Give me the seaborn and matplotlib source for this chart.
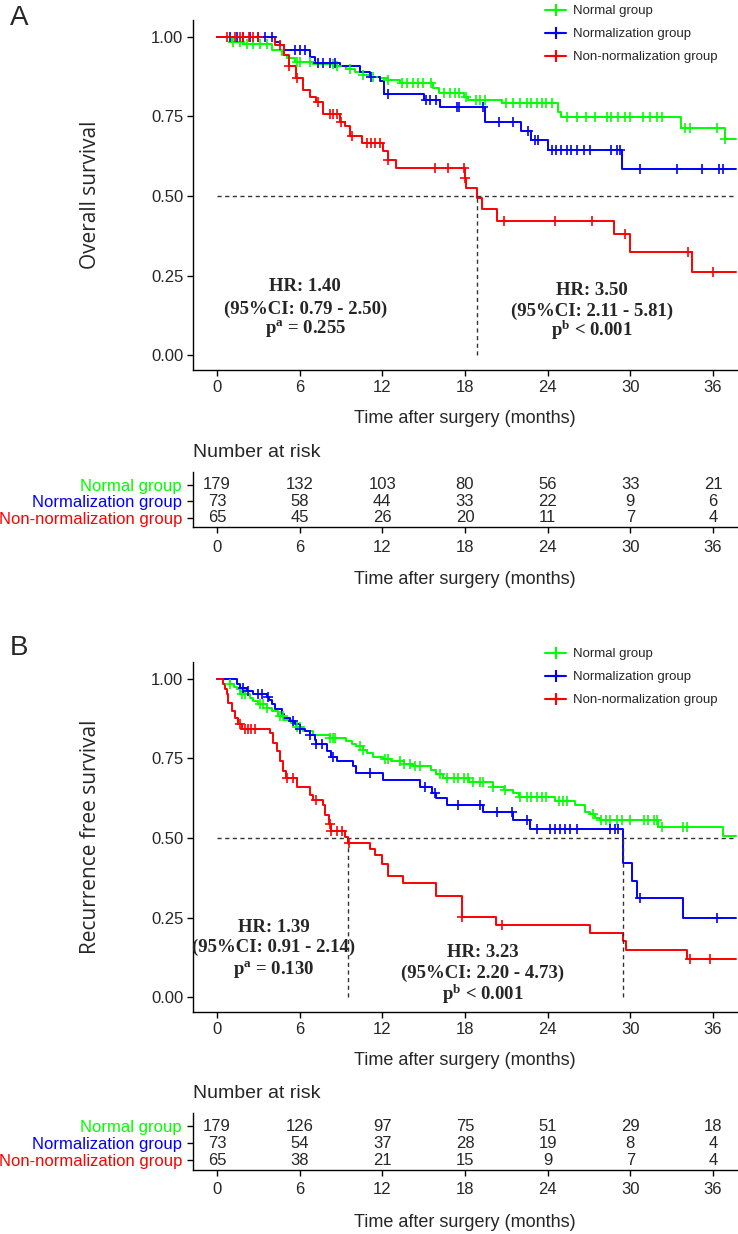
import numpy as np
import pandas as pd
import matplotlib
matplotlib.use("Agg")
import matplotlib.pyplot as plt
import seaborn as sns
from matplotlib.lines import Line2D
import warnings
warnings.filterwarnings("ignore")

sns.set_theme(style="ticks")
# 字体设置（在 set_theme 之后）
plt.rcParams['font.family'] = ['Liberation Sans', 'DejaVu Sans']
plt.rcParams['mathtext.fontset'] = 'custom'
plt.rcParams['mathtext.rm'] = 'Liberation Serif'
plt.rcParams['mathtext.bf'] = 'Liberation Serif:bold'
plt.rcParams['mathtext.default'] = 'bf'

# ---------------- data ----------------
groups = ['Normal group', 'Normalization group', 'Non-normalization group']
colors = ['#00FF00', '#0000FF', '#FF0000']
risk_times = [0, 6, 12, 18, 24, 30, 36]
follow_up_end = 37.7

# A: overall survival
os_normal_t = [0, 1.07, 1.9, 4.0, 4.7, 5.05, 5.66, 7.0, 8.7, 9.4, 10.0, 10.6, 11.1, 11.8, 12.4, 13.3,
               15.7, 16.1, 17.9, 18.2, 20.65, 24.75, 25.0, 33.7, 36.9]
os_normal_s = [1.0, 0.985, 0.977, 0.96, 0.943, 0.933, 0.922, 0.915, 0.907, 0.90, 0.89, 0.88, 0.875, 0.87,
               0.865, 0.854, 0.838, 0.823, 0.812, 0.802, 0.791, 0.765, 0.747, 0.715, 0.68]
os_normal_c = [1.19, 1.67, 2.15, 2.64, 3.12, 3.6, 5.8, 6.0, 6.75, 8.4, 8.7, 9.65, 10.6, 11.35, 12.4, 13.4,
               13.8, 14.25, 14.6, 14.97, 15.5, 16.5, 16.9, 17.3, 17.6, 18.1, 18.8, 19.1, 19.45, 21.0, 21.5,
               22.0, 22.5, 22.8, 23.2, 23.6, 23.9, 24.3, 25.4, 26.1, 26.8, 27.4, 28.3, 28.6, 29.1, 29.6,
               30.0, 30.9, 31.4, 31.9, 32.3, 33.96, 34.3, 36.3, 36.9]

os_norm_t = [0, 4.2, 4.6, 4.9, 6.75, 7.1, 8.9, 10.4, 11.1, 11.8, 12.1, 15.0, 16.2, 19.45, 22.1, 22.8,
             24.05, 29.4]
os_norm_s = [1.0, 0.985, 0.975, 0.96, 0.938, 0.917, 0.907, 0.89, 0.875, 0.86, 0.82, 0.802, 0.78, 0.734,
             0.705, 0.676, 0.645, 0.585]
os_norm_c = [0.94, 1.43, 1.91, 2.4, 3.0, 3.5, 3.97, 5.66, 6.0, 6.4, 7.35, 7.7, 8.2, 8.56, 11.2, 12.4,
             15.2, 15.45, 15.9, 17.4, 17.6, 19.3, 20.5, 21.5, 22.6, 23.1, 23.3, 24.3, 24.6, 25.0, 25.4,
             25.7, 26.1, 26.6, 27.1, 28.6, 29.0, 29.25, 30.7, 33.4, 35.2, 36.4, 36.7]

os_non_t = [0, 4.2, 4.9, 5.2, 5.7, 6.25, 6.75, 7.2, 7.7, 8.9, 9.3, 9.65, 10.5, 12.05, 12.4, 13.0, 18.0,
            18.1, 18.85, 19.2, 20.3, 28.8, 30.0, 34.45]
os_non_s = [1.0, 0.975, 0.943, 0.907, 0.87, 0.833, 0.812, 0.795, 0.758, 0.734, 0.72, 0.69, 0.667, 0.64,
            0.613, 0.589, 0.556, 0.525, 0.494, 0.458, 0.422, 0.38, 0.323, 0.26]
os_non_c = [0.7, 1.3, 1.67, 1.9, 2.3, 2.64, 3.0, 4.6, 5.2, 5.8, 7.3, 8.2, 8.45, 8.7, 9.0, 9.8, 10.9,
            11.2, 11.5, 11.8, 12.4, 15.8, 16.8, 17.9, 18.0, 20.8, 24.5, 27.2, 29.6, 34.2, 36.0]

# B: recurrence free survival
rfs_normal_t = [0, 0.94, 1.2, 1.43, 1.67, 2.4, 2.6, 3.0, 3.6, 4.0, 4.45, 4.9, 5.4, 5.7, 6.26, 7.0, 8.2,
                9.4, 9.8, 10.1, 10.6, 10.9, 11.35, 12.07, 12.6, 13.6, 14.25, 15.5, 15.9, 16.4, 18.3,
                20.05, 20.8, 21.5, 21.9, 24.5, 26.0, 26.7, 27.1, 27.4, 27.8, 32.0, 36.75]
rfs_normal_s = [1.0, 0.985, 0.976, 0.967, 0.953, 0.941, 0.929, 0.92, 0.909, 0.899, 0.883, 0.872, 0.862,
                0.85, 0.835, 0.823, 0.815, 0.804, 0.795, 0.788, 0.777, 0.767, 0.756, 0.749, 0.741,
                0.733, 0.725, 0.714, 0.70, 0.688, 0.677, 0.661, 0.651, 0.641, 0.63, 0.617, 0.604,
                0.582, 0.575, 0.563, 0.557, 0.535, 0.505]
rfs_normal_c = [0.94, 1.8, 2.0, 3.12, 3.36, 3.6, 4.57, 4.8, 5.8, 6.0, 8.2, 8.4, 8.6, 10.4, 10.6, 12.2,
                12.4, 13.3, 13.6, 14.0, 14.4, 14.7, 16.2, 16.7, 17.2, 17.5, 17.9, 18.2, 18.6, 19.1,
                19.3, 20.05, 20.9, 22.0, 22.5, 22.8, 23.2, 23.6, 23.9, 24.8, 25.1, 25.4, 27.3, 27.9,
                28.2, 28.5, 29.0, 29.4, 30.0, 31.0, 31.3, 31.7, 31.9, 32.3, 33.8, 34.1]

rfs_norm_t = [0, 1.43, 1.67, 2.15, 2.6, 3.6, 3.8, 4.0, 4.2, 4.7, 4.9, 5.3, 5.66, 6.0, 6.4, 6.75, 7.1,
              7.2, 7.96, 8.3, 8.7, 9.9, 10.1, 12.07, 14.7, 15.6, 15.9, 16.7, 19.3, 21.5, 22.7, 29.5,
              30.1, 30.5, 33.8]
rfs_norm_s = [1.0, 0.983, 0.97, 0.962, 0.953, 0.943, 0.933, 0.92, 0.904, 0.89, 0.878, 0.867, 0.857,
              0.844, 0.835, 0.823, 0.809, 0.795, 0.772, 0.753, 0.743, 0.725, 0.704, 0.683, 0.661,
              0.64, 0.625, 0.604, 0.582, 0.556, 0.528, 0.422, 0.366, 0.31, 0.25]
rfs_norm_c = [1.91, 2.27, 3.0, 3.24, 3.7, 5.54, 6.0, 6.75, 7.2, 7.6, 8.4, 11.1, 15.1, 15.8, 17.5, 19.1,
              20.3, 21.4, 22.5, 23.2, 24.2, 24.5, 24.9, 25.25, 25.6, 26.1, 28.5, 28.9, 29.1, 30.7,
              36.3]

rfs_non_t = [0, 0.46, 0.6, 0.7, 0.82, 1.07, 1.3, 1.55, 1.8, 3.85, 4.1, 4.33, 4.57, 4.8, 5.0, 5.8, 6.75,
             7.0, 7.7, 7.85, 8.1, 8.3, 9.3, 9.5, 11.1, 11.5, 11.95, 12.4, 13.5, 15.9, 17.75, 20.25,
             27.1, 29.5, 29.7, 34.1]
rfs_non_s = [1.0, 0.983, 0.968, 0.952, 0.925, 0.899, 0.878, 0.857, 0.841, 0.83, 0.798, 0.772, 0.741,
             0.709, 0.688, 0.661, 0.635, 0.619, 0.604, 0.572, 0.545, 0.521, 0.503, 0.485, 0.466,
             0.445, 0.419, 0.382, 0.358, 0.317, 0.252, 0.226, 0.20, 0.176, 0.148, 0.121]
rfs_non_c = [1.67, 2.0, 2.27, 2.5, 2.75, 5.05, 5.5, 7.2, 8.2, 8.3, 8.7, 9.05, 9.6, 17.75, 20.7, 34.3,
             35.8]

# number at risk
os_risk_normal = [179, 132, 103, 80, 56, 33, 21]
os_risk_norm = [73, 58, 44, 33, 22, 9, 6]
os_risk_non = [65, 45, 26, 20, 11, 7, 4]
rfs_risk_normal = [179, 126, 97, 75, 51, 29, 18]
rfs_risk_norm = [73, 54, 37, 28, 19, 8, 4]
rfs_risk_non = [65, 38, 21, 15, 9, 7, 4]

os_hr_text = [['HR: 1.40', '(95%CI: 0.79 - 2.50)', 'p$^{a}$ = 0.255'],
              ['HR: 3.50', '(95%CI: 2.11 - 5.81)', 'p$^{b}$ < 0.001']]
rfs_hr_text = [['HR: 1.39', '(95%CI: 0.91 - 2.14)', 'p$^{a}$ = 0.130'],
               ['HR: 3.23', '(95%CI: 2.20 - 4.73)', 'p$^{b}$ < 0.001']]
os_hr_pos = [(6.4, [0.215, 0.145, 0.085]), (27.2, [0.204, 0.138, 0.078])]
rfs_hr_pos = [(4.1, [0.218, 0.155, 0.088]), (19.3, [0.139, 0.076, 0.009])]

# ---------------- figure ----------------
W, H = 738, 1234
fig = plt.figure(figsize=(W / 100, H / 100), dpi=100)

def fpos(left, top, right, bottom):
    return [left / W, 1 - bottom / H, (right - left) / W, (bottom - top) / H]

ax_a = fig.add_axes(fpos(193, 20, 737, 370))
tab_a = fig.add_axes(fpos(193, 472, 737, 527))
ax_b = fig.add_axes(fpos(193, 662, 737, 1012))
tab_b = fig.add_axes(fpos(193, 1113, 737, 1170))

xlim = (-1.74, 37.74)
tick_fs = 12


def km_panel(ax, curves, censors, ylabel, hr_text, hr_pos):
    for (t, s), cens, col, name in zip(curves, censors, colors, groups):
        t = np.array(t + [follow_up_end])
        s = np.array(s + [s[-1]])
        df = pd.DataFrame({'time': t, 'surv': s})
        sns.lineplot(data=df, x='time', y='surv', color=col, drawstyle='steps-post',
                     estimator=None, sort=False, lw=1.4, ax=ax, legend=False)
        c = np.array(cens)
        idx = np.searchsorted(t, c, side='right') - 1
        cdf = pd.DataFrame({'time': c, 'surv': s[idx]})
        sns.scatterplot(data=cdf, x='time', y='surv', color=col, marker='+', s=60,
                        linewidth=1.2, ax=ax, legend=False, zorder=3)
    # 中位生存时间的虚线
    meds = []
    for t, s in curves:
        s = np.array(s)
        if (s <= 0.5).any():
            meds.append(np.array(t)[np.argmax(s <= 0.5)])
    ax.hlines(0.5, 0, xlim[1], colors='#333333', linestyles=(0, (3, 2.5)), lw=1)
    ax.vlines(meds, 0, 0.5, colors='#333333', linestyles=(0, (3, 2.5)), lw=1)
    for lines, (x, ys) in zip(hr_text, hr_pos):
        for txt, y in zip(lines, ys):
            ax.text(x, y, txt, ha='center', va='center', fontsize=13.5, fontweight='bold',
                    family='Liberation Serif')
    ax.set_xlim(*xlim)
    ax.set_ylim(-0.047, 1.053)
    ax.set_xticks(risk_times)
    ax.set_yticks([0, 0.25, 0.5, 0.75, 1.0])
    ax.set_yticklabels(['0.00', '0.25', '0.50', '0.75', '1.00'])
    ax.set_xlabel('Time after surgery (months)', fontsize=13, labelpad=11)
    ax.set_ylabel(ylabel, fontsize=15, family='Open Sans', labelpad=36)
    ax.tick_params(labelsize=tick_fs, length=4, width=1, color='black', pad=3)
    sns.despine(ax=ax)
    for sp in ['left', 'bottom']:
        ax.spines[sp].set_color('black')
        ax.spines[sp].set_linewidth(1)


def risk_table(ax, rows):
    for r, vals in zip([3, 2, 1], rows):
        for x, v in zip(risk_times, vals):
            ax.text(x, r, str(v), ha='center', va='center', fontsize=tick_fs)
    ax.set_xlim(*xlim)
    ax.set_ylim(0.43, 3.78)
    ax.set_xticks(risk_times)
    ax.set_yticks([3, 2, 1])
    ax.set_yticklabels(groups, fontsize=9.6)
    for lab, col in zip(ax.get_yticklabels(), colors):
        lab.set_color(col)
    ax.set_xlabel('Time after surgery (months)', fontsize=13, labelpad=12)
    ax.tick_params(labelsize=tick_fs, length=4, width=1, color='black')
    ax.tick_params(axis='y', pad=4)
    ax.tick_params(axis='x', pad=5)
    ax.annotate('Number at risk', xy=(0, 1), xycoords='axes fraction', xytext=(0, 14),
                textcoords='offset points', ha='left', va='center', fontsize=14)
    sns.despine(ax=ax)
    for sp in ['left', 'bottom']:
        ax.spines[sp].set_color('black')
        ax.spines[sp].set_linewidth(1)


km_panel(ax_a, [(os_normal_t, os_normal_s), (os_norm_t, os_norm_s), (os_non_t, os_non_s)],
         [os_normal_c, os_norm_c, os_non_c], 'Overall survival', os_hr_text, os_hr_pos)
km_panel(ax_b, [(rfs_normal_t, rfs_normal_s), (rfs_norm_t, rfs_norm_s), (rfs_non_t, rfs_non_s)],
         [rfs_normal_c, rfs_norm_c, rfs_non_c], 'Recurrence free survival', rfs_hr_text, rfs_hr_pos)
risk_table(tab_a, [os_risk_normal, os_risk_norm, os_risk_non])
risk_table(tab_b, [rfs_risk_normal, rfs_risk_norm, rfs_risk_non])

# 图例
handles = [Line2D([0], [0], color=c, lw=1.5, marker='+', ms=8, mew=1.5) for c in colors]
for ytop in [1 - 5 / H, 1 - 648 / H]:
    fig.legend(handles, groups, loc='upper left', bbox_to_anchor=(545 / W, ytop), frameon=False,
               fontsize=9.5, handlelength=1.6, handletextpad=0.5, labelspacing=0.82,
               borderpad=0, borderaxespad=0)

fig.text(10 / W, 1 - 18 / H, 'A', fontsize=20, ha='left', va='center')
fig.text(10 / W, 1 - 648 / H, 'B', fontsize=20, ha='left', va='center')

fig.savefig('out.png', dpi=100)
